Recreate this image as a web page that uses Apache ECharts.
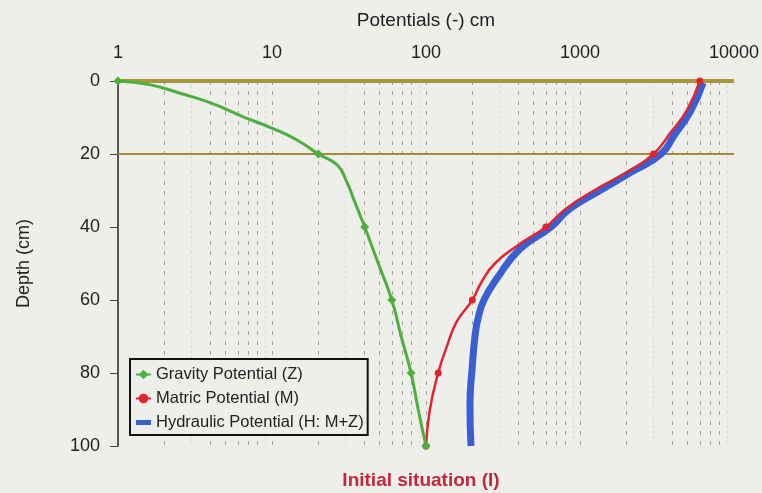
<!DOCTYPE html>
<html>
<head>
<meta charset="utf-8">
<script src="https://cdn.jsdelivr.net/npm/echarts@6/dist/echarts.min.js"></script>
<style>
  html, body { margin: 0; padding: 0; background: #eeeeeb; }
  #chart { width: 762px; height: 493px; }
</style>
</head>
<body>
<div id="chart"></div>
<script>
// Potential profiles over depth (values in cm of suction, log scale)
const depthTicks = [0, 20, 40, 60, 80, 100];
const xTickValues = [1, 10, 100, 1000, 10000];

// Gravity potential Z
const gravityDepth = [0, 1, 3.5, 6, 9.8, 13.3, 16.5, 20, 23, 27.5, 32.5, 40, 50, 60, 70, 80, 90, 100];
const gravityValue = [1, 1.6, 2.6, 4, 6.5, 10.5, 15, 20, 26.5, 30.5, 34, 40, 49, 60, 69, 80, 89, 100];
const gravityMarked = [0, 20, 40, 60, 80, 100];

// Matric potential M
const matricDepth = [0, 8, 14, 20, 25, 30, 35, 40, 45, 50, 55, 60, 66, 73, 80, 90, 100];
const matricValue = [6000, 4950, 3900, 3000, 2020, 1233, 811, 600, 396, 280, 230, 200, 158, 136, 120, 106, 100];
const matricMarked = [0, 20, 40, 60, 80, 100];

// Hydraulic potential H = M + Z
const hydraulicDepth = [0.5, 8, 15, 20, 25, 30, 35, 40, 46, 54, 60, 65, 70, 78, 89, 100];
const hydraulicValue = [6300, 5260, 4075, 3357, 2143, 1349, 861, 648, 408, 290, 238, 218, 208, 200, 193, 196];

// Vertical guide lines inside each decade
const gridGrey = [2, 4, 5, 6, 7, 8, 10, 20, 40, 50, 60, 70, 80, 100, 200, 400, 500, 600, 700, 800, 1000, 2000, 4000, 5000, 6000, 7000, 8000];
const gridYellow = [3, 9, 30, 90, 300, 900, 3000, 9000];
// Horizontal reference depths: soil surface and 20 cm
const refDepths = [0, 20];

const FONT = "'Liberation Sans', Arial, sans-serif";

function profile(depths, values, marked, symbol) {
  return depths.map((d, i) => ({
    value: [values[i], d],
    symbol: marked && marked.indexOf(d) >= 0 ? symbol : 'none'
  }));
}

const chart = echarts.init(document.getElementById('chart'));
chart.setOption({
  backgroundColor: '#eeeeeb',
  animation: false,
  textStyle: { fontFamily: FONT },
  title: {
    text: 'Initial situation (I)',
    left: 416, top: 466, textAlign: 'center',
    textStyle: { color: '#c3273b', fontSize: 19, fontWeight: 'bold', fontFamily: FONT }
  },
  grid: { left: 118, right: 28, top: 81, bottom: 47 },
  legend: {
    orient: 'vertical',
    left: 130, top: 359, z: 20,
    backgroundColor: '#eeeeeb',
    borderColor: '#111', borderWidth: 2, borderRadius: 0,
    padding: [7, 4, 4, 5],
    itemGap: 7, itemWidth: 15, itemHeight: 12,
    symbolKeepAspect: true,
    textStyle: { fontSize: 16.5, color: '#222', fontFamily: FONT },
    data: [
      'Gravity Potential (Z)',
      'Matric Potential (M)',
      { name: 'Hydraulic Potential (H: M+Z)', icon: 'path://M0,0H15V5H0Z' }
    ]
  },
  xAxis: {
    type: 'log', logBase: 10, min: 1, max: 10000,
    position: 'top',
    name: 'Potentials (-) cm',
    nameLocation: 'middle', nameGap: 51,
    nameTextStyle: { fontSize: 19, color: '#222', fontFamily: FONT },
    axisLine: { show: false },
    axisTick: { show: false },
    splitLine: { show: false },
    axisLabel: {
      fontSize: 18, color: '#222', margin: 19, fontFamily: FONT,
      formatter: v => (xTickValues.indexOf(v) >= 0 ? String(v) : '')
    }
  },
  yAxis: {
    type: 'value', inverse: true, min: 0, max: 100, interval: 20,
    name: 'Depth (cm)', nameLocation: 'middle', nameGap: 85, nameRotate: 90,
    nameTextStyle: { fontSize: 18, color: '#222', fontFamily: FONT },
    axisLine: { show: true, lineStyle: { color: '#222', width: 1.5 } },
    axisTick: { show: true, length: 8, lineStyle: { color: '#444' } },
    splitLine: { show: false },
    axisLabel: {
      fontSize: 18, color: '#222', margin: 18, fontFamily: FONT,
      formatter: v => (depthTicks.indexOf(v) >= 0 ? String(v) : '')
    }
  },
  series: [
    {
      // guide lines, drawn beneath the profiles
      name: 'guides', type: 'line', data: [], z: 1, silent: true,
      markLine: {
        z: 1, silent: true, symbol: 'none', label: { show: false },
        data: [].concat(
          gridYellow.map(v => ({ xAxis: v, lineStyle: { color: '#e6dc9a', type: [2, 3], width: 1 } })),
          gridGrey.map(v => ({ xAxis: v, lineStyle: { color: '#aaa498', type: [4, 6], width: 1 } })),
          refDepths.map((d, i) => ({ yAxis: d, lineStyle: { color: i === 0 ? '#a8963c' : '#a38a38', type: 'solid', width: i === 0 ? 4 : 2 } }))
        )
      }
    },
    {
      name: 'Hydraulic Potential (H: M+Z)', type: 'line', z: 3,
      smooth: 0.5, showSymbol: false, symbol: 'none',
      lineStyle: { color: '#3a5fd3', width: 7 },
      itemStyle: { color: '#3a5fd3' },
      data: hydraulicDepth.map((d, i) => [hydraulicValue[i], d])
    },
    {
      name: 'Matric Potential (M)', type: 'line', z: 4,
      smooth: 0.5, symbol: 'circle', symbolSize: 7, showAllSymbol: true,
      lineStyle: { color: '#e0252f', width: 2.5 },
      itemStyle: { color: '#e0252f' },
      data: profile(matricDepth, matricValue, matricMarked, 'circle')
    },
    {
      name: 'Gravity Potential (Z)', type: 'line', z: 5,
      smooth: 0.5, symbol: 'diamond', symbolSize: 9, showAllSymbol: true,
      lineStyle: { color: '#4caf3e', width: 3 },
      itemStyle: { color: '#4caf3e' },
      data: profile(gravityDepth, gravityValue, gravityMarked, 'diamond')
    }
  ]
});
</script>
</body>
</html>
